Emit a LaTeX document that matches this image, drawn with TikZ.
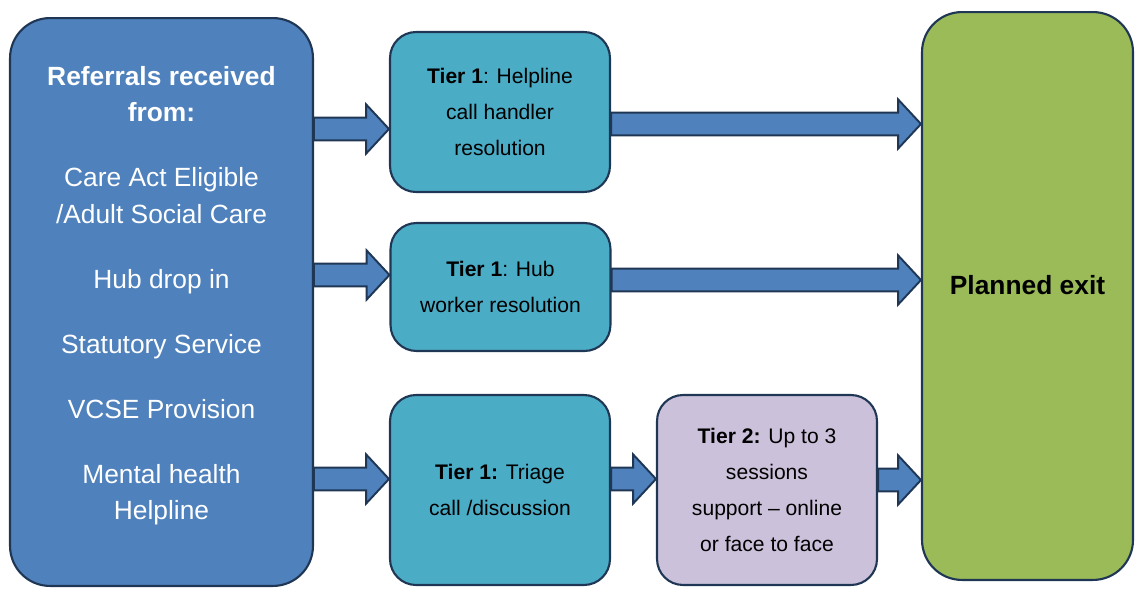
\documentclass[tikz,border=0pt]{standalone}
\usepackage{fontspec}
\setmainfont{Liberation Sans}
\usetikzlibrary{calc}
\definecolor{refBlue}{HTML}{4F81BD}
\definecolor{tierTeal}{HTML}{4BACC6}
\definecolor{tierLilac}{HTML}{CCC1DA}
\definecolor{exitGreen}{HTML}{9BBB59}
\definecolor{edgeNavy}{HTML}{1F3654}
\tikzset{
  box/.style={draw=edgeNavy, line width=1.2pt, align=center, inner sep=0pt},
  tierbox/.style={box, fill=tierTeal, rounded corners=0.52cm, minimum width=4.4cm,
    font=\fontsize{12}{20.4}\selectfont},
  blockarrow/.style={draw=edgeNavy, line width=1.1pt, fill=refBlue, line join=miter}
}
% block arrow from #1 to #2, kept at the height of #1
\newcommand{\fatarrow}[2]{%
  \draw[blockarrow] let \p1=#1, \p2=#2 in
    (\x1,\y1+6.5pt) -- (\x2-13pt,\y1+6.5pt) -- (\x2-13pt,\y1+14pt) -- (\x2,\y1)
    -- (\x2-13pt,\y1-14pt) -- (\x2-13pt,\y1-6.5pt) -- (\x1,\y1-6.5pt) -- cycle;}

\begin{document}
\begin{tikzpicture}[x=0.02cm, y=-0.02cm]
    \useasboundingbox (0,0) rectangle (1135,588);
    % Referral sources
    \node[box, fill=refBlue, rounded corners=0.8cm, minimum width=6.06cm, minimum height=11.36cm,
      text=white, text depth=10.4pt, font=\fontsize{15}{20.7}\selectfont] (referrals) at (161.5,302)
      {\textbf{Referrals received}\\\textbf{from:}\\[16.3pt]
       Care Act Eligible\\/Adult Social Care\\[16.3pt]
       Hub drop in\\[16.3pt]
       Statutory Service\\[16.3pt]
       VCSE Provision\\[16.3pt]
       Mental health\\Helpline};
    % Tier 1 routes
    \node[tierbox, minimum height=3.2cm] (helpline) at (500,112)
      {\textbf{Tier 1}: Helpline\\call handler\\resolution};
    \node[tierbox, minimum height=2.56cm] (hubwork) at (500.5,287)
      {\textbf{Tier 1}: Hub\\worker resolution};
    \node[tierbox, minimum height=3.8cm] (triage) at (500,490)
      {\textbf{Tier 1:} Triage\\call /discussion};
    % Tier 2
    \node[tierbox, fill=tierLilac, minimum height=3.8cm] (sessions) at (767,490)
      {\textbf{Tier 2:} Up to 3\\sessions\\support -- online\\or face to face};
    % Exit
    \node[box, fill=exitGreen, rounded corners=0.8cm, minimum width=4.22cm, minimum height=11.36cm,
      text depth=12.4pt, font=\fontsize{15}{20.4}\selectfont\bfseries] (exit) at (1027.5,296) {Planned exit};
    % Arrows
    \fatarrow{(referrals.east |- 0,129)}{(helpline.west |- 0,129)}
    \fatarrow{(helpline.east |- 0,124)}{(exit.west |- 0,124)}
    \fatarrow{(referrals.east |- 0,275)}{(hubwork.west |- 0,275)}
    \fatarrow{(hubwork.east |- 0,280)}{(exit.west |- 0,280)}
    \fatarrow{(referrals.east |- 0,479)}{(triage.west |- 0,479)}
    \fatarrow{(triage.east |- 0,479)}{(sessions.west |- 0,479)}
    \fatarrow{(sessions.east |- 0,480)}{(exit.west |- 0,480)}
  \end{tikzpicture}
\end{document}
